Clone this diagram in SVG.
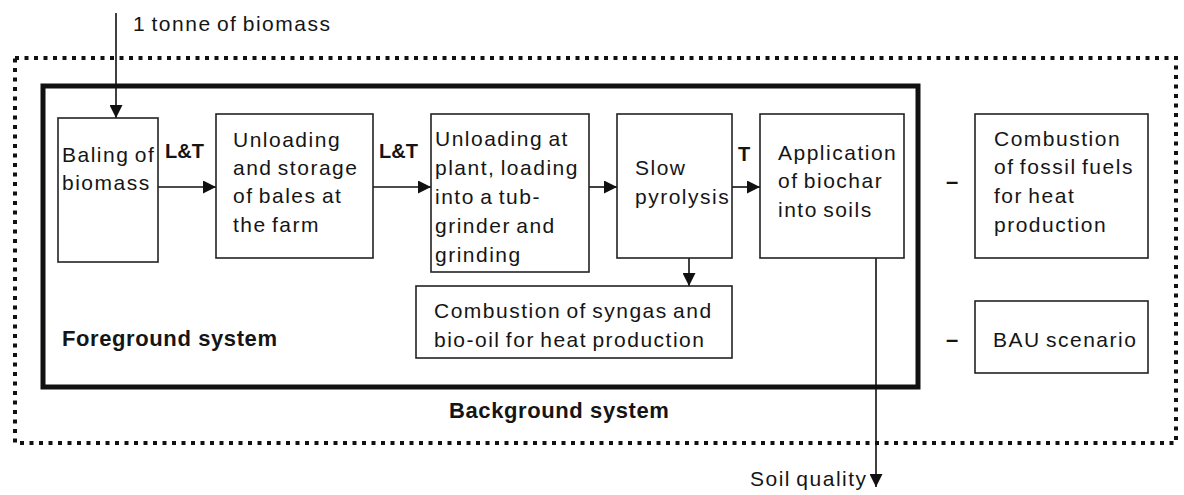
<svg xmlns="http://www.w3.org/2000/svg" width="1184" height="495" viewBox="0 0 1184 495">
<style>
.t{font-family:"Liberation Sans",Arial,sans-serif;font-size:21px;letter-spacing:1.5px;word-spacing:-2px;fill:#151515}
.b{font-family:"Liberation Sans",Arial,sans-serif;font-weight:bold;fill:#151515}
.box{fill:#fff;stroke:#222;stroke-width:1.6}
.c{stroke:#111;stroke-width:1.6;fill:none}
</style>
<defs>
<marker id="ah" markerUnits="userSpaceOnUse" markerWidth="14" markerHeight="13" refX="13" refY="6.5" orient="auto">
<path d="M0,0 L13,6.5 L0,13 z" fill="#111"/>
</marker>
</defs>
<rect width="1184" height="495" fill="#fff"/>
<g id="background-system">
<rect x="15" y="58" width="1161" height="385" fill="none" stroke="#111" stroke-width="4" stroke-dasharray="4 5.5"/>
<text class="b" x="449" y="418" font-size="22" letter-spacing="0.6">Background system</text>
</g>
<g id="foreground-system">
<rect x="43" y="86" width="875" height="301" fill="none" stroke="#111" stroke-width="5"/>
<text class="b" x="62" y="346" font-size="22" letter-spacing="0.6">Foreground system</text>
</g>
<g id="connectors">
<line class="c" x1="116" y1="13" x2="116" y2="118" marker-end="url(#ah)"/>
<line class="c" x1="158" y1="187" x2="216" y2="187" marker-end="url(#ah)"/>
<line class="c" x1="373" y1="187" x2="431" y2="187" marker-end="url(#ah)"/>
<line class="c" x1="589" y1="187" x2="617" y2="187" marker-end="url(#ah)"/>
<line class="c" x1="732" y1="187" x2="760" y2="187" marker-end="url(#ah)"/>
<line class="c" x1="689" y1="258" x2="689" y2="286" marker-end="url(#ah)"/>
<line class="c" x1="876" y1="258" x2="876" y2="487" marker-end="url(#ah)"/>
<text class="t" x="133" y="31">1 tonne of biomass</text>
<text class="b" x="165" y="158" font-size="20">L&amp;T</text>
<text class="b" x="379" y="158" font-size="20">L&amp;T</text>
<text class="b" x="738" y="161" font-size="20">T</text>
<text class="t" x="750" y="486">Soil quality</text>
</g>
<g id="baling">
<rect class="box" x="58" y="118" width="100" height="144"/>
<text class="t" x="62" y="162">Baling of</text>
<text class="t" x="62" y="190">biomass</text>
</g>
<g id="unloading-storage">
<rect class="box" x="216" y="114" width="157" height="144"/>
<text class="t" x="233" y="147">Unloading</text>
<text class="t" x="233" y="175">and storage</text>
<text class="t" x="233" y="203">of bales at</text>
<text class="t" x="233" y="232">the farm</text>
</g>
<g id="unloading-plant">
<rect class="box" x="431" y="114" width="158" height="158"/>
<text class="t" x="435" y="146">Unloading at</text>
<text class="t" x="435" y="175">plant, loading</text>
<text class="t" x="435" y="204">into a tub-</text>
<text class="t" x="435" y="233">grinder and</text>
<text class="t" x="435" y="262">grinding</text>
</g>
<g id="pyrolysis">
<rect class="box" x="617" y="114" width="115" height="144"/>
<text class="t" x="635" y="175">Slow</text>
<text class="t" x="635" y="204">pyrolysis</text>
</g>
<g id="application">
<rect class="box" x="760" y="114" width="144" height="144"/>
<text class="t" x="778" y="160">Application</text>
<text class="t" x="778" y="188">of biochar</text>
<text class="t" x="778" y="217">into soils</text>
</g>
<g id="syngas">
<rect class="box" x="416" y="286" width="316" height="72"/>
<text class="t" x="434" y="318">Combustion of syngas and</text>
<text class="t" x="434" y="347">bio-oil for heat production</text>
</g>
<g id="fossil">
<text class="b" x="952" y="189" font-size="22" text-anchor="middle">–</text>
<rect class="box" x="975" y="114" width="173" height="144"/>
<text class="t" x="994" y="146">Combustion</text>
<text class="t" x="994" y="174">of fossil fuels</text>
<text class="t" x="994" y="203">for heat</text>
<text class="t" x="994" y="232">production</text>
</g>
<g id="bau">
<text class="b" x="952" y="347" font-size="22" text-anchor="middle">–</text>
<rect class="box" x="975" y="301" width="173" height="72"/>
<text class="t" x="993" y="347">BAU scenario</text>
</g>
</svg>
